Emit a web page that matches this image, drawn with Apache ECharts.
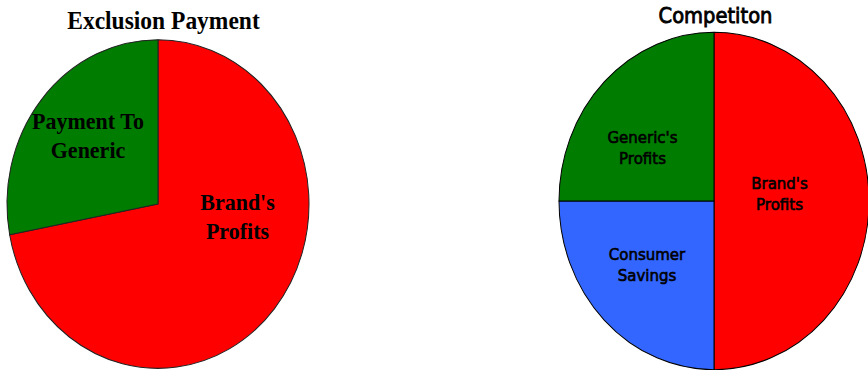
<!DOCTYPE html>
<html>
<head>
<meta charset="utf-8">
<script src="https://cdn.jsdelivr.net/npm/echarts@6/dist/echarts.min.js"></script>
<style>
  html, body { margin: 0; padding: 0; background: #fff; }
  #wrap { width: 868px; height: 370px; overflow: hidden; position: relative; background: #fff; }
  #chart { width: 868px; height: 340px; transform-origin: 0 0; transform: scaleY(1.088235); }
</style>
</head>
<body>
<div id="wrap"><div id="chart"></div></div>
<script>
// ---- data ----
const chartTitles = ["Exclusion Payment", "Competiton"];
const leftCategories = ["Brand's Profits", "Payment To Generic"];
const leftValues = [72, 28];
const leftLabels = ["Brand's\nProfits", "Payment To\nGeneric"];
const rightCategories = ["Brand's Profits", "Consumer Savings", "Generic's Profits"];
const rightValues = [50, 25, 25];
const rightLabels = ["Brand's\nProfits", "Consumer\nSavings", "Generic's\nProfits"];

// ---- styling / layout (not data) ----
const leftColors = ['#ff0000', '#007c00'];
const rightColors = ['#ff0000', '#3366ff', '#007c00'];
const leftLabelPos = [[237.5, 199.5], [88, 125]];
const rightLabelPos = [[779.5, 178], [647, 243], [642.5, 136]];

const chart = echarts.init(document.getElementById('chart'), null, { renderer: 'svg', width: 868, height: 340 });

function mk(cats, vals, labels, colors) {
  return cats.map((c, i) => ({
    name: c, value: vals[i],
    itemStyle: { color: colors[i] },
    label: { formatter: labels[i] }
  }));
}

const option = {
  backgroundColor: '#ffffff',
  animation: false,
  title: [
    { text: chartTitles[0], left: 163.5, top: 6.5, textAlign: 'center', padding: 0,
      textStyle: { fontFamily: 'Liberation Serif', fontWeight: 'bold', fontSize: 23.5, color: '#000' } },
    { text: chartTitles[1], left: 715.5, top: 4, textAlign: 'center', padding: 0,
      textStyle: { fontFamily: 'DejaVu Sans', fontWeight: 'normal', fontSize: 19.5, color: '#000',
                   textBorderColor: '#000', textBorderWidth: 0.8 } }
  ],
  series: [
    {
      type: 'pie', center: [158, 187.5], radius: 151, startAngle: 90, clockwise: true,
      silent: true,
      itemStyle: { borderColor: '#222', borderWidth: 1 },
      label: { show: true, position: 'inside', fontFamily: 'Liberation Serif', fontWeight: 'bold',
               fontSize: 22, lineHeight: 26.5, color: '#000', align: 'center' },
      labelLine: { show: false },
      labelLayout: p => ({ x: leftLabelPos[p.dataIndex][0], y: leftLabelPos[p.dataIndex][1], align: 'center', verticalAlign: 'middle' }),
      data: mk(leftCategories, leftValues, leftLabels, leftColors)
    },
    {
      type: 'pie', center: [714, 184.7], radius: 155, startAngle: 90, clockwise: true,
      silent: true,
      itemStyle: { borderColor: '#000', borderWidth: 1 },
      label: { show: true, position: 'inside', fontFamily: 'DejaVu Sans', fontWeight: 'normal',
               fontSize: 15, lineHeight: 19.5, color: '#000', align: 'center',
               textBorderColor: '#000', textBorderWidth: 0.6 },
      labelLine: { show: false },
      labelLayout: p => ({ x: rightLabelPos[p.dataIndex][0], y: rightLabelPos[p.dataIndex][1], align: 'center', verticalAlign: 'middle' }),
      data: mk(rightCategories, rightValues, rightLabels, rightColors)
    }
  ]
};
chart.setOption(option);
</script>
</body>
</html>
